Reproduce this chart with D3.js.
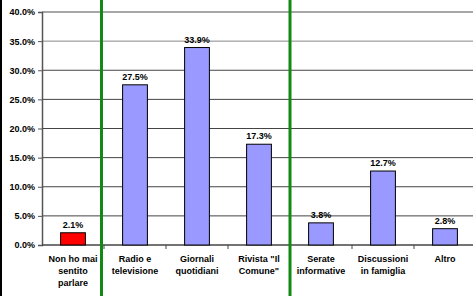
<!DOCTYPE html>
<meta charset="utf-8">
<title>Fonti di informazione</title>
<style>
body { margin: 0; background: #fff; }
text { font-family: "Liberation Sans", Arial, sans-serif; font-weight: bold; font-size: 9px; fill: #000; }
</style>
<body>
<script src="https://cdn.jsdelivr.net/npm/d3@7"></script>
<script>

var width = 473,
    height = 296;

// data
var categories = [
  ["Non ho mai", "sentito", "parlare"],
  ["Radio e", "televisione"],
  ["Giornali", "quotidiani"],
  ["Rivista \"Il", "Comune\""],
  ["Serate", "informative"],
  ["Discussioni", "in famiglia"],
  ["Altro"]
];
var values = [2.1, 27.5, 33.9, 17.3, 3.8, 12.7, 2.8];
var yTicks = [0, 5, 10, 15, 20, 25, 30, 35, 40];
var separators = [1, 4]; // green lines before these categories

var plotLeft = 42, plotRight = 476, plotTop = 12, plotBottom = 245;

var svg = d3.select("body").append("svg")
    .attr("width", width)
    .attr("height", height);

var x = d3.scaleBand()
    .domain(d3.range(values.length))
    .range([plotLeft, plotRight])
    .paddingInner(0.6)
    .paddingOuter(0.3);

var band = d3.scaleBand()
    .domain(d3.range(values.length))
    .range([plotLeft, plotRight]);

var y = d3.scaleLinear()
    .domain([0, 40])
    .range([plotBottom, plotTop]);

// gridlines
svg.selectAll("line.grid")
    .data(yTicks.filter(function(d) { return d > 0; }))
  .enter().append("line")
    .attr("class", "grid")
    .attr("x1", plotLeft).attr("x2", width)
    .attr("y1", function(d) { return y(d); })
    .attr("y2", function(d) { return y(d); })
    .attr("stroke", function(d) { return d >= 35 ? "#888" : "#444"; })
    .attr("stroke-width", function(d) { return d == 40 ? 1.5 : 1; });

// y axis
var yAxis = d3.axisLeft(y)
    .tickValues(yTicks)
    .tickSize(4)
    .tickPadding(3)
    .tickFormat(function(d) { return d.toFixed(1) + "%"; });

var gy = svg.append("g")
    .attr("transform", "translate(" + plotLeft + ",0)")
    .call(yAxis);
gy.select(".domain").attr("stroke", "#555").attr("stroke-width", 1.5);
gy.selectAll(".tick line").attr("stroke", "#555");
gy.selectAll("text").attr("font-size", null).attr("font-family", null);
gy.attr("font-size", null).attr("font-family", null);

// x axis line and ticks
svg.append("line")
    .attr("x1", plotLeft).attr("x2", width)
    .attr("y1", plotBottom).attr("y2", plotBottom)
    .attr("stroke", "#444").attr("stroke-width", 1.5);

svg.selectAll("line.xtick")
    .data(d3.range(1, values.length))
  .enter().append("line")
    .attr("x1", function(d) { return band(d); })
    .attr("x2", function(d) { return band(d); })
    .attr("y1", plotBottom).attr("y2", plotBottom + 4)
    .attr("stroke", "#444");

// bars
svg.selectAll("rect.bar")
    .data(values)
  .enter().append("rect")
    .attr("x", function(d, i) { return x(i); })
    .attr("y", function(d) { return y(d); })
    .attr("width", x.bandwidth())
    .attr("height", function(d) { return plotBottom - y(d); })
    .attr("fill", function(d, i) { return i == 0 ? "#ff0000" : "#9999ff"; })
    .attr("stroke", "#000")
    .attr("stroke-width", 1);

// value labels
svg.selectAll("text.val")
    .data(values)
  .enter().append("text")
    .attr("x", function(d, i) { return x(i) + x.bandwidth() / 2; })
    .attr("y", function(d) { return y(d) - 5; })
    .attr("text-anchor", "middle")
    .text(function(d) { return d.toFixed(1) + "%"; });

// category labels
var cat = svg.selectAll("text.cat")
    .data(categories)
  .enter().append("text")
    .attr("text-anchor", "middle")
    .attr("x", function(d, i) { return band(i) + band.bandwidth() / 2; })
    .attr("y", plotBottom + 17);

cat.selectAll("tspan")
    .data(function(d) { return d; })
  .enter().append("tspan")
    .attr("x", function() { return this.parentNode.getAttribute("x"); })
    .attr("dy", function(d, i) { return i == 0 ? 0 : 12; })
    .text(function(d) { return d; });

// green separators
svg.selectAll("line.sep")
    .data(separators)
  .enter().append("line")
    .attr("x1", function(d) { return band(d) - (d == 1 ? 2.5 : 0); })
    .attr("x2", function(d) { return band(d) - (d == 1 ? 2.5 : 0); })
    .attr("y1", 0).attr("y2", height)
    .attr("stroke", "#108a10")
    .attr("stroke-width", 3);

// left border
svg.append("line")
    .attr("x1", 1).attr("x2", 1)
    .attr("y1", 0).attr("y2", height)
    .attr("stroke", "#000")
    .attr("stroke-width", 2);

</script>
